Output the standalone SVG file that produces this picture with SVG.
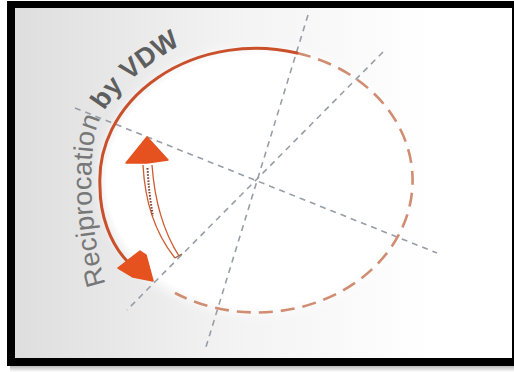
<svg xmlns="http://www.w3.org/2000/svg" width="514" height="372" viewBox="0 0 514 372">
  <defs>
    <linearGradient id="bg" x1="15" y1="0" x2="430" y2="0" gradientUnits="userSpaceOnUse">
      <stop offset="0" stop-color="#dedede"/>
      <stop offset="0.5" stop-color="#f2f2f2"/>
      <stop offset="1" stop-color="#ffffff"/>
    </linearGradient>
    <linearGradient id="shadow" x1="0" y1="362" x2="0" y2="372" gradientUnits="userSpaceOnUse">
      <stop offset="0" stop-color="#8a8a8a"/>
      <stop offset="1" stop-color="#ffffff"/>
    </linearGradient>
    <filter id="soft" x="-10%" y="-10%" width="120%" height="120%">
      <feGaussianBlur stdDeviation="6"/>
    </filter>
    <path id="tp" d="M 106 285 C 92 240, 88 180, 94 140 C 98 110, 120 80, 185 42"/>
    <style>
      .axis { fill: none; stroke: #989ea6; stroke-width: 1.6; stroke-dasharray: 6 5; }
      .dashring { fill: none; stroke: #d08d72; stroke-width: 2.6; stroke-dasharray: 14 8; }
      .solid { fill: none; stroke: #c9502a; stroke-width: 3; stroke-linecap: round; }
      .head { fill: #e5521f; stroke: #e5521f; stroke-width: 1.5; stroke-linejoin: round; }
      .label { font-family: "Liberation Sans", Arial, sans-serif; font-size: 27px; }
    </style>
  </defs>

  <g id="frame">
    <rect x="0" y="0" width="514" height="372" fill="#ffffff"/>
    <rect x="10" y="362" width="514" height="10" fill="url(#shadow)"/>
    <rect x="7" y="1" width="520" height="365" fill="#000000"/>
    <rect x="15" y="8" width="497" height="350" fill="url(#bg)"/>
  </g>

  <g id="disc">
    <ellipse cx="256" cy="181" rx="156" ry="132" fill="#ffffff" filter="url(#soft)"/>
    <ellipse cx="256" cy="181" rx="150" ry="126" fill="#ffffff"/>
  </g>

  <g id="axes">
    <line class="axis" x1="308" y1="15" x2="205" y2="350"/>
    <line class="axis" x1="383" y1="52" x2="127" y2="310"/>
    <line class="axis" x1="75" y1="108" x2="437" y2="253"/>
  </g>

  <g id="ring">
    <path class="dashring" d="M 297 53 A 156 132 0 1 1 175 293"/>
    <path class="solid" d="M 297 53 A 156 132 0 0 0 100 187 C 100 215, 110 243, 127 261"/>
    <polygon id="big-head" class="head" points="118,268 140,251 146,255 153,281 133,277"/>
  </g>

  <g id="small-arrow">
    <path d="M 143 165 Q 146 222 175 258" fill="none" stroke="#cf5a30" stroke-width="1.3"/>
    <path d="M 152 165 Q 156 220 179 256" fill="none" stroke="#cf5a30" stroke-width="1.3"/>
    <path d="M 147.5 168 Q 149 195 153 216" fill="none" stroke="#7a3b22" stroke-width="2" stroke-dasharray="1.5 1.5"/>
    <line x1="175" y1="258" x2="182" y2="254" stroke="#a05a40" stroke-width="1.3"/>
    <polygon class="head" points="147,137 168,160 147,163 126,163"/>
  </g>

  <g id="label">
    <text class="label"><textPath href="#tp" startOffset="1"><tspan fill="#777777" letter-spacing="0.3">Reciprocation</tspan><tspan> </tspan><tspan fill="#5e5e5e" font-weight="bold">by VDW</tspan></textPath></text>
  </g>
</svg>
